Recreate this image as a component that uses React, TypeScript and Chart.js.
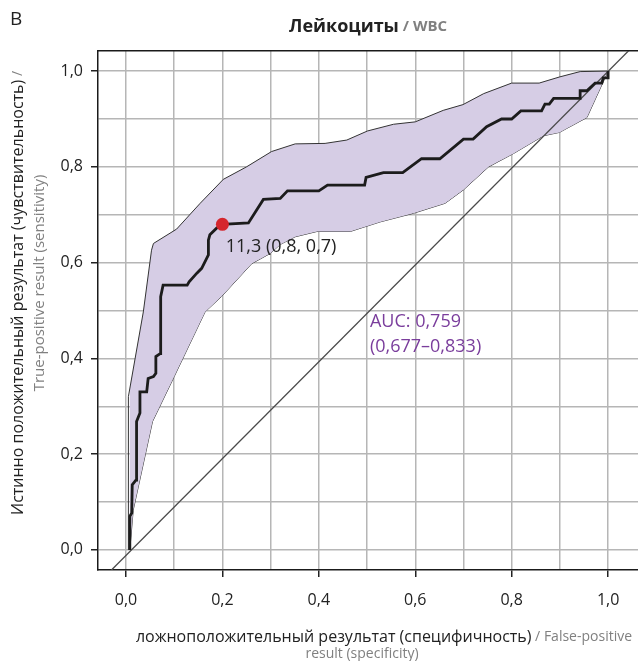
import React, { useEffect, useRef } from 'react';
import { Chart, registerables } from 'chart.js';

Chart.register(...registerables);

// ---- data ----
const tickValues = [0, 0.1, 0.2, 0.3, 0.4, 0.5, 0.6, 0.7, 0.8, 0.9, 1.0];
const tickLabels = ['0,0', '', '0,2', '', '0,4', '', '0,6', '', '0,8', '', '1,0'];

const rocX = [0.008, 0.008, 0.012, 0.013, 0.021, 0.022, 0.029, 0.029, 0.043, 0.046, 0.057, 0.062, 0.062, 0.071, 0.072, 0.077, 0.127, 0.131, 0.147, 0.157, 0.171, 0.171, 0.174, 0.188, 0.2, 0.254, 0.285, 0.32, 0.335, 0.4, 0.418, 0.495, 0.498, 0.534, 0.574, 0.613, 0.651, 0.7, 0.72, 0.748, 0.779, 0.8, 0.819, 0.862, 0.869, 0.878, 0.887, 0.942, 0.942, 0.956, 0.973, 0.987, 0.99, 1.0, 1.0];
const rocY = [0.0, 0.07, 0.077, 0.136, 0.146, 0.268, 0.286, 0.33, 0.33, 0.358, 0.362, 0.369, 0.404, 0.41, 0.529, 0.553, 0.553, 0.56, 0.578, 0.588, 0.616, 0.647, 0.658, 0.672, 0.68, 0.683, 0.732, 0.734, 0.75, 0.75, 0.762, 0.762, 0.778, 0.788, 0.788, 0.817, 0.817, 0.858, 0.858, 0.884, 0.9, 0.9, 0.917, 0.917, 0.931, 0.931, 0.943, 0.943, 0.959, 0.959, 0.975, 0.975, 0.986, 0.986, 1.0];

const upperX = [0.005, 0.005, 0.036, 0.053, 0.057, 0.105, 0.154, 0.202, 0.25, 0.302, 0.351, 0.413, 0.458, 0.501, 0.555, 0.6, 0.658, 0.699, 0.742, 0.8, 0.857, 0.9, 0.942, 1.0];
const upperY = [0.0, 0.32, 0.497, 0.626, 0.64, 0.67, 0.724, 0.774, 0.8, 0.832, 0.848, 0.849, 0.856, 0.875, 0.889, 0.894, 0.918, 0.93, 0.953, 0.975, 0.975, 0.988, 0.999, 1.0];

const lowerX = [0.008, 0.015, 0.055, 0.1, 0.164, 0.198, 0.261, 0.299, 0.32, 0.351, 0.396, 0.465, 0.527, 0.596, 0.662, 0.7, 0.752, 0.804, 0.866, 0.899, 0.956, 1.0];
const lowerY = [0.0, 0.083, 0.268, 0.362, 0.497, 0.529, 0.598, 0.619, 0.638, 0.654, 0.665, 0.665, 0.685, 0.703, 0.724, 0.752, 0.8, 0.828, 0.865, 0.872, 0.903, 1.0];

const diagX = [-0.03, 1.045];
const diagY = [-0.042, 1.045];

const cutoffX = [0.2];
const cutoffY = [0.68];
const cutoffLabel = '11,3 (0,8, 0,7)';
const cutoffLabelAt = { x: 0.207, y: 0.633 };

const aucLines = ['AUC: 0,759', '(0,677–0,833)'];
const aucAt = { x: 0.506, y: [0.476, 0.424] };

const xMin = -0.058, xMax = 1.062, yMin = -0.042, yMax = 1.042;

const pts = (xs: number[], ys: number[]) => xs.map((x, i) => ({ x, y: ys[i] }));

const FONT = '"Open Sans", "Noto Sans", sans-serif';
const DARK = '#222222';
const GRAY = '#808080';

type Run = { text: string; font: string; color: string };

function drawRuns(ctx: CanvasRenderingContext2D, runs: Run[], cx: number, cy: number) {
  let total = 0;
  const widths = runs.map(r => { ctx.font = r.font; const w = ctx.measureText(r.text).width; total += w; return w; });
  let x = cx - total / 2;
  ctx.textBaseline = 'middle';
  ctx.textAlign = 'left';
  runs.forEach((r, i) => {
    ctx.font = r.font;
    ctx.fillStyle = r.color;
    ctx.fillText(r.text, x, cy);
    x += widths[i];
  });
}

const textPlugin = {
  id: 'texts',
  afterDatasetsDraw(chart: any) {
    const { ctx, scales } = chart;
    const xs = scales.x, ys = scales.y;
    ctx.save();
    ctx.font = `18px ${FONT}`;
    ctx.fillStyle = DARK;
    ctx.textAlign = 'left';
    ctx.textBaseline = 'middle';
    ctx.fillText(cutoffLabel, xs.getPixelForValue(cutoffLabelAt.x), ys.getPixelForValue(cutoffLabelAt.y));
    ctx.fillStyle = '#7a3d9c';
    aucLines.forEach((t, i) => {
      ctx.fillText(t, xs.getPixelForValue(aucAt.x), ys.getPixelForValue(aucAt.y[i]));
    });
    ctx.restore();
  },
  afterDraw(chart: any) {
    const { ctx } = chart;
    ctx.save();
    ctx.font = `19px ${FONT}`;
    ctx.fillStyle = DARK;
    ctx.textAlign = 'left';
    ctx.textBaseline = 'middle';
    ctx.fillText('B', 10, 20);
    drawRuns(ctx, [
      { text: 'Лейкоциты', font: `bold 18px ${FONT}`, color: DARK },
      { text: ' / WBC', font: `bold 15px ${FONT}`, color: GRAY },
    ], 368, 27);
    drawRuns(ctx, [
      { text: 'ложноположительный результат (специфичность)', font: `16px ${FONT}`, color: DARK },
      { text: ' / False-positive', font: `14px ${FONT}`, color: GRAY },
    ], 384, 637);
    drawRuns(ctx, [
      { text: 'result (specificity)', font: `14px ${FONT}`, color: GRAY },
    ], 362, 654);
    ctx.save();
    ctx.translate(18, 293);
    ctx.rotate(-Math.PI / 2);
    drawRuns(ctx, [
      { text: 'Истинно положительный результат (чувствительность)', font: `16px ${FONT}`, color: DARK },
      { text: ' /', font: `14px ${FONT}`, color: GRAY },
    ], 0, 0);
    ctx.restore();
    ctx.save();
    ctx.translate(40, 283);
    ctx.rotate(-Math.PI / 2);
    drawRuns(ctx, [
      { text: 'True-positive result (sensitivity)', font: `15px ${FONT}`, color: GRAY },
    ], 0, 0);
    ctx.restore();
    ctx.restore();
  },
};

const gridCommon = {
  color: '#b6b6b6',
  lineWidth: 1.5,
  tickLength: 7,
  tickWidth: 1.5,
  tickColor: (c: any) => (tickLabels[c.index] ? '#222' : 'rgba(0,0,0,0)'),
};

export default function App() {
  const ref = useRef<HTMLCanvasElement | null>(null);
  useEffect(() => {
    document.body.style.margin = '0';
    const canvas = ref.current;
    if (!canvas) return;
    const chart = new Chart(canvas, {
      type: 'line',
      data: {
        datasets: [
          {
            label: 'cutoff', data: pts(cutoffX, cutoffY), showLine: false,
            pointRadius: 6.5, pointHoverRadius: 6.5, pointBackgroundColor: '#d5262d', pointBorderWidth: 0, order: 0,
          },
          {
            label: 'ROC', data: pts(rocX, rocY), borderColor: '#1c1c1c', borderWidth: 2.8,
            pointRadius: 0, tension: 0, fill: false, order: 1,
          },
          {
            label: 'diag', data: pts(diagX, diagY), borderColor: '#4a4a4a', borderWidth: 1.3,
            pointRadius: 0, fill: false, order: 2,
          },
          {
            label: 'upper', data: pts(upperX, upperY), borderColor: '#333', borderWidth: 1,
            pointRadius: 0, fill: '+1', backgroundColor: '#d6cde5', order: 3,
          },
          {
            label: 'lower', data: pts(lowerX, lowerY), borderColor: '#333', borderWidth: 1,
            pointRadius: 0, fill: false, order: 4,
          },
        ],
      } as any,
      options: {
        responsive: false,
        animation: false,
        events: [],
        layout: { autoPadding: false, padding: { top: 51, left: 0, right: 0, bottom: 0 } },
        plugins: { legend: { display: false }, tooltip: { enabled: false }, title: { display: false } },
        font: { family: FONT },
        scales: {
          x: {
            type: 'linear', position: 'bottom', min: xMin, max: xMax,
            afterBuildTicks: (s: any) => { s.ticks = tickValues.map(v => ({ value: v })); },
            afterFit: (s: any) => { s.height = 91; },
            ticks: {
              callback: (_v: any, i: number) => tickLabels[i],
              font: { family: FONT, size: 16 }, color: DARK, padding: 14,
              maxRotation: 0, autoSkip: false,
            },
            grid: gridCommon,
            border: { color: '#1a1a1a', width: 1.5 },
          },
          x2: {
            type: 'linear', position: 'top', min: xMin, max: xMax, display: true,
            grid: { display: false, drawTicks: false },
            ticks: { display: false },
            border: { display: true, color: '#1a1a1a', width: 1.5 },
            afterFit: (s: any) => { s.height = 0; },
          },
          y: {
            type: 'linear', position: 'left', min: yMin, max: yMax,
            afterBuildTicks: (s: any) => { s.ticks = tickValues.map(v => ({ value: v })); },
            afterFit: (s: any) => { s.width = 98; },
            ticks: {
              callback: (_v: any, i: number) => tickLabels[i],
              font: { family: FONT, size: 16 }, color: DARK, padding: 8, autoSkip: false,
            },
            grid: gridCommon,
            border: { color: '#1a1a1a', width: 1.5 },
          },
        },
      } as any,
      plugins: [textPlugin],
    });
    return () => chart.destroy();
  }, []);
  return <canvas ref={ref} width={638} height={661} style={{ display: 'block', width: 638, height: 661 }} />;
}
